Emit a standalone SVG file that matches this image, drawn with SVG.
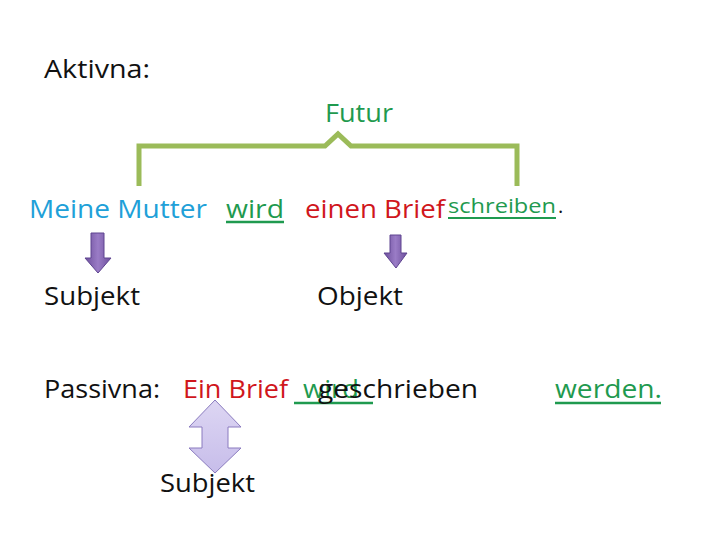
<svg xmlns="http://www.w3.org/2000/svg" width="720" height="540" viewBox="0 0 720 540">
<style>
text{font-family:"Open Sans","Liberation Sans",sans-serif;font-size:25px}
.k{fill:#111}
.b{fill:#20a0d8}
.g{fill:#1f9a4f}
.r{fill:#d0161c}
.ul{stroke:#1f9a4f;stroke-width:2.5}
</style>
<defs>
<linearGradient id="pg" x1="0" y1="0" x2="1" y2="0">
<stop offset="0" stop-color="#6d4f9c"/><stop offset="0.5" stop-color="#9a7cc6"/><stop offset="1" stop-color="#6d4f9c"/>
</linearGradient>
<linearGradient id="lg" x1="0" y1="0" x2="0" y2="1">
<stop offset="0" stop-color="#ddd6f3"/><stop offset="1" stop-color="#c7bdea"/>
</linearGradient>
</defs>
<rect width="720" height="540" fill="#fff"/>
<g id="labels">
<text class="k" x="44" y="78" textLength="106" lengthAdjust="spacingAndGlyphs">Aktivna:</text>
<text class="k" x="44" y="398" textLength="116" lengthAdjust="spacingAndGlyphs">Passivna:</text>
</g>
<g id="futur">
<path d="M139,186 V146 H325 L338,134 L351,146 H517 V186" fill="none" stroke="#9bbb59" stroke-width="5"/>
<text class="g" x="325" y="122" textLength="68" lengthAdjust="spacingAndGlyphs">Futur</text>
</g>
<g id="aktiv-sentence">
<text class="b" x="29" y="218" textLength="178" lengthAdjust="spacingAndGlyphs">Meine Mutter</text>
<text class="g" x="226" y="218" textLength="58" lengthAdjust="spacingAndGlyphs">wird</text>
<line class="ul" x1="226" y1="222" x2="284" y2="222"/>
<text class="r" x="305" y="218" textLength="140" lengthAdjust="spacingAndGlyphs">einen Brief</text>
<text class="g" x="448" y="213" style="font-size:20px" textLength="108" lengthAdjust="spacingAndGlyphs">schreiben</text>
<line class="ul" x1="448" y1="218" x2="556" y2="218" style="stroke-width:2"/>
<text class="k" x="558" y="213" style="font-size:20px">.</text>
</g>
<g id="connectors">
<path d="M91,233 H104 V258 H111 L98,273 L85,258 H91 Z" fill="url(#pg)" stroke="#5e4490" stroke-width="1"/>
<path d="M390,235 H401 V253 H407 L396,268 L384,253 H390 Z" fill="url(#pg)" stroke="#5e4490" stroke-width="1"/>
<path d="M215,400 L241,427 H228 V448 H241 L215,473 L189,448 H202 V427 H189 Z" fill="url(#lg)" stroke="#8a7bbf" stroke-width="1"/>
</g>
<g id="subjekt1"><text class="k" x="44" y="305" textLength="96" lengthAdjust="spacingAndGlyphs">Subjekt</text></g>
<g id="objekt"><text class="k" x="317" y="305" textLength="86" lengthAdjust="spacingAndGlyphs">Objekt</text></g>
<g id="passiv-sentence">
<text class="r" x="183" y="398" textLength="105" lengthAdjust="spacingAndGlyphs">Ein Brief</text>
<line class="ul" x1="294" y1="403" x2="373" y2="403"/>
<text class="g" x="303" y="398" textLength="56" lengthAdjust="spacingAndGlyphs">wird</text>
<text class="k" x="318" y="398" textLength="160" lengthAdjust="spacingAndGlyphs">geschrieben</text>
<text class="g" x="555" y="398" textLength="107" lengthAdjust="spacingAndGlyphs">werden.</text>
<line class="ul" x1="555" y1="403" x2="661" y2="403"/>
</g>
<g id="subjekt2"><text class="k" x="160" y="492" textLength="95" lengthAdjust="spacingAndGlyphs">Subjekt</text></g>
</svg>
